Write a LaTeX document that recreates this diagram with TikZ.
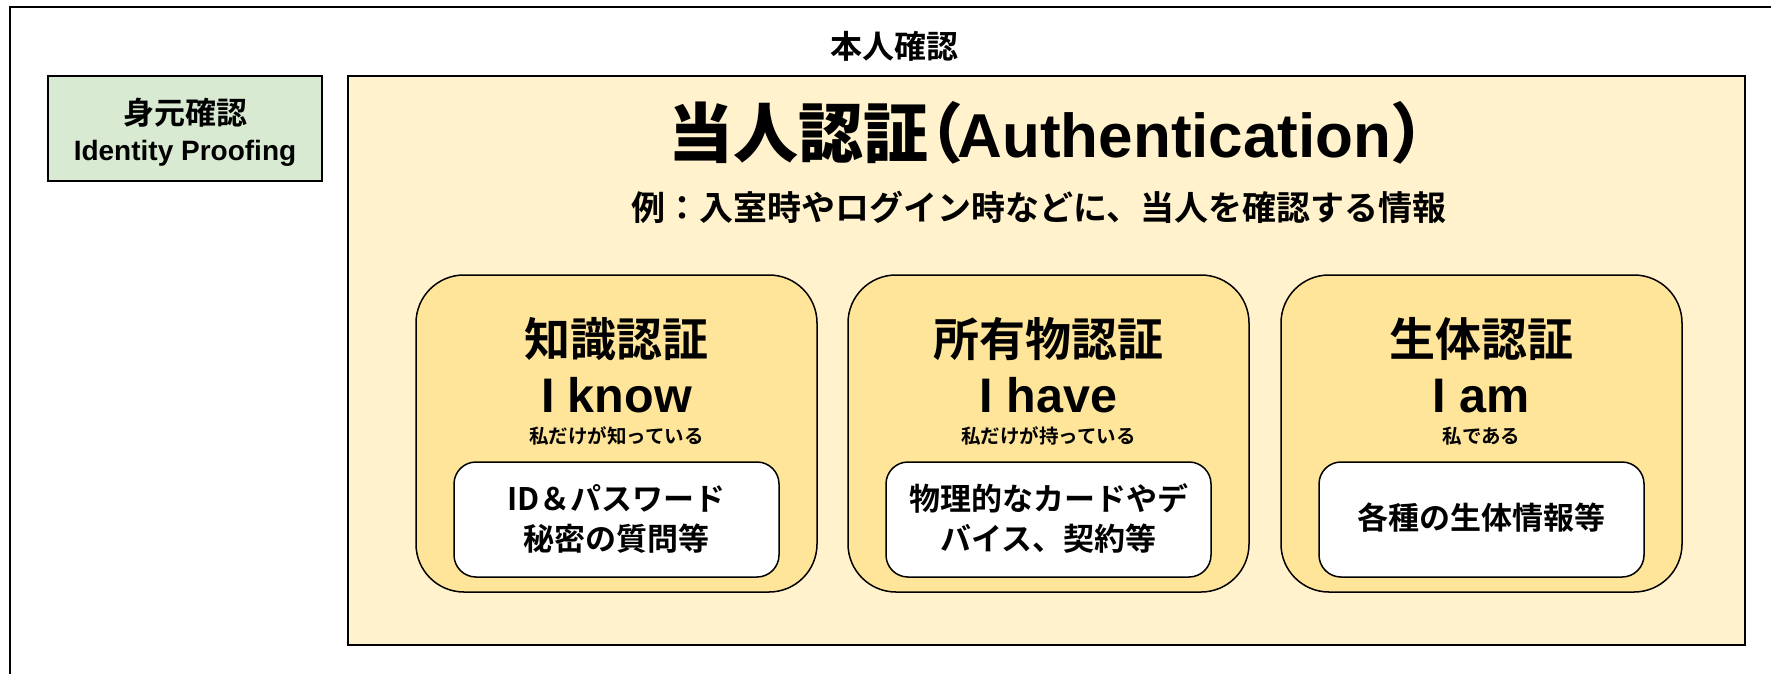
\documentclass[tikz,border=0pt]{standalone}
\usepackage{fontspec}
\setmainfont{Liberation Sans}
\newfontfamily\jp{Noto Sans CJK JP Bold}
\definecolor{pgreen}{HTML}{D9EAD3}
\definecolor{pyellow}{HTML}{FFF2CC}
\definecolor{pgold}{HTML}{FFE599}
\newcommand\setfs[1]{\fontsize{#1}{#1}\selectfont}
\begin{document}
\begin{tikzpicture}[x=1pt,y=-1pt,
  txt/.style={inner sep=0pt,anchor=base,text=black},
  greenbox/.style={draw=black,line width=2pt,fill=pgreen,minimum width=274pt,minimum height=105pt,inner sep=0pt},
  bigbox/.style={draw=black,line width=2pt,fill=pyellow,minimum width=1397pt,minimum height=569pt,inner sep=0pt},
  factorbox/.style={draw=black,line width=1.5pt,fill=pgold,rounded corners=48pt,minimum width=401pt,minimum height=317pt,inner sep=0pt},
  examplebox/.style={draw=black,line width=1.5pt,fill=white,rounded corners=22pt,minimum width=325pt,minimum height=115pt,inner sep=0pt},
  head/.style={txt,font=\setfs{48.5}\bfseries},
  headjp/.style={txt,font=\setfs{46}\jp},
  sub/.style={txt,font=\setfs{19.5}\jp},
  ex/.style={txt,font=\setfs{31}\jp}]
\useasboundingbox (0,0) rectangle (1771,673);
\fill[white] (0,0) rectangle (1771,673);
\begin{scope}
  \clip (0,0) rectangle (1771,673);
  \draw[line width=2.5pt] (10,7) rectangle (1800,700);
\end{scope}
% titles
\node[txt,font=\setfs{32}\jp] (honnin) at (894,58) {本人確認};
% identity proofing
\node[greenbox] (idp) at (185,128.5) {};
\node[txt,font=\setfs{31}\jp] (idpjp) at (185,124.5) {身元確認};
\node[txt,font=\setfs{28}\bfseries] (idpen) at (185,160) {Identity Proofing};
% authentication
\node[bigbox] (auth) at (1046.5,360.5) {};
\node[txt,font=\setfs{62}\bfseries] (authtitle) at (1062,157)
  {{\jp\setfs{65}当人認証\hspace{-30pt}（\hspace{-6pt}}Authentication{\jp\setfs{65}\hspace{-1pt}）\hspace{-28pt}}};
\node[txt,font=\setfs{34}\jp] (authsub) at (1039,220) {例：入室時やログイン時などに、当人を確認する情報};
% factor boxes
\node[factorbox] (f1) at (616.5,433.5) {};
\node[factorbox] (f2) at (1048.5,433.5) {};
\node[factorbox] (f3) at (1481.5,433.5) {};
\node[examplebox] (e1) at (616.5,519.5) {};
\node[examplebox] (e2) at (1048.5,519.5) {};
\node[examplebox] (e3) at (1481.5,519.5) {};
% knowledge
\node[headjp] (h1) at (616.5,356) {知識認証};
\node[head] (k1) at (616.5,412) {I know};
\node[sub] (s1) at (616.5,443) {私だけが知っている};
\node[ex] (x1a) at (616.5,510.5) {ID＆パスワード};
\node[ex] (x1b) at (616.5,550.5) {秘密の質問等};
% possession
\node[headjp] (h2) at (1048.5,356) {所有物認証};
\node[head] (k2) at (1048.5,412) {I have};
\node[sub] (s2) at (1048.5,443) {私だけが持っている};
\node[ex] (x2a) at (1048.5,510.5) {物理的なカードやデ};
\node[ex] (x2b) at (1048.5,550.5) {バイス、契約等};
% inherence
\node[headjp] (h3) at (1481.5,356) {生体認証};
\node[head] (k3) at (1481.5,412) {I am};
\node[sub] (s3) at (1481.5,443) {私である};
\node[ex] (x3) at (1481.5,529.5) {各種の生体情報等};
\end{tikzpicture}
\end{document}
